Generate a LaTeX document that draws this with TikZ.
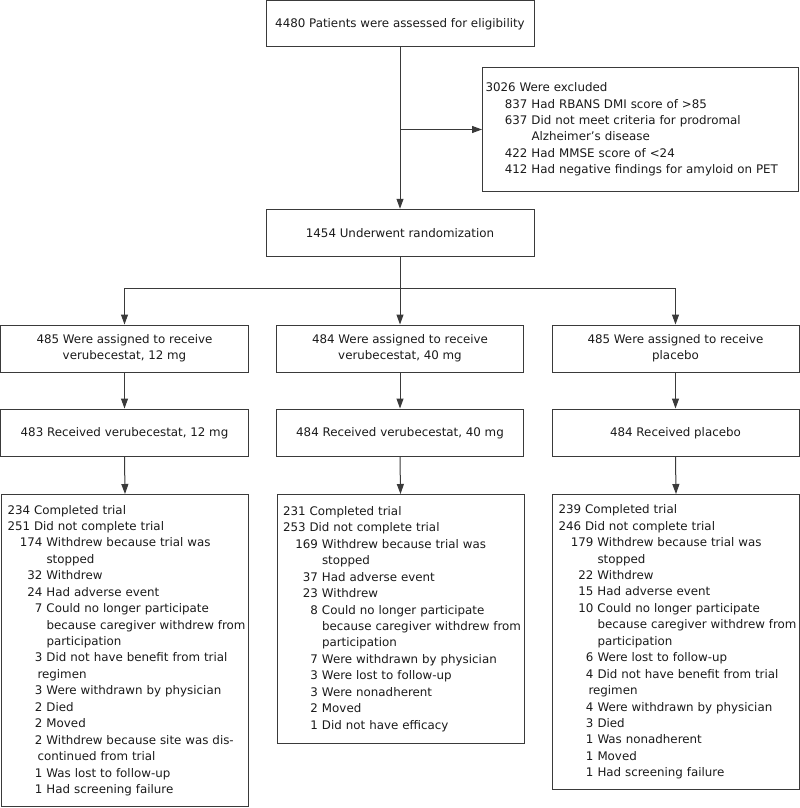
\documentclass[tikz,border=0pt]{standalone}
\usepackage{fontspec}
\setmainfont{DejaVu Sans}
\usetikzlibrary{positioning,arrows.meta}
\definecolor{lineGray}{HTML}{3A3A3A}
\definecolor{textBlack}{HTML}{1A1A1A}
\newlength{\reasonw}
\setlength{\reasonw}{35bp}
\newcommand{\reasonline}[2]{\mbox{\makebox[\reasonw][r]{#1}\hspace{4bp}#2}}
\newcommand{\reasoncont}[1]{\mbox{\hspace*{\reasonw}\hspace{4bp}#1}}
\newcommand{\reasonhang}[1]{\mbox{\hspace*{30bp}#1}}

\begin{document}
\begin{tikzpicture}[x=1bp,y=-1bp,
  box/.style={draw=lineGray,line width=1bp,inner sep=0pt,align=center,text=textBlack,font=\fontsize{11.9}{16.5}\selectfont},
  listbox/.style={box,align=left,inner xsep=6bp,text width=235bp,anchor=north west},
  arr/.style={draw=lineGray,line width=1bp,-{Triangle[length=10bp,width=7bp]}},
  link/.style={draw=lineGray,line width=1bp}]
\useasboundingbox (0,0) rectangle (800,808);
%% screening and randomization
\node [box,minimum width=268bp,minimum height=46bp] (eligBox) at (400,24) {4480 Patients were assessed for eligibility};
\node [box,anchor=north west,align=left,inner xsep=3bp,text width=310bp,minimum height=124bp] (exclBox) at (482,67) {\setlength{\reasonw}{42bp}%
3026 Were excluded\\
\reasonline{837}{Had RBANS DMI score of >85}\\
\reasonline{637}{Did not meet criteria for prodromal}\\
\reasoncont{Alzheimer's disease}\\
\reasonline{422}{Had MMSE score of <24}\\
\reasonline{412}{Had negative findings for amyloid on PET}};
\node [box,minimum width=268bp,minimum height=47bp] (randBox) at (400,232.75) {1454 Underwent randomization};
\coordinate (split) at (400,288);
%the assigned groups
\node [box,minimum width=247bp,minimum height=47bp] (assignLeft) at (124.5,348.5) {485 Were assigned to receive\\verubecestat, 12 mg};
\node [box,minimum width=247bp,minimum height=47bp] (assignMid) at (400,348.5) {484 Were assigned to receive\\verubecestat, 40 mg};
\node [box,minimum width=247bp,minimum height=47bp] (assignRight) at (675.5,348.5) {485 Were assigned to receive\\placebo};
\node [box,minimum width=247bp,minimum height=47.5bp] (recvLeft) at (124.5,432.75) {483 Received verubecestat, 12 mg};
\node [box,minimum width=247bp,minimum height=47.5bp] (recvMid) at (400,432.75) {484 Received verubecestat, 40 mg};
\node [box,minimum width=247bp,minimum height=47.5bp] (recvRight) at (675.5,432.75) {484 Received placebo};
%outcome of each group
\node [listbox,minimum height=312bp] (outLeft) at (1,494) {%
234 Completed trial\\
251 Did not complete trial\\
\reasonline{174}{Withdrew because trial was}\\
\reasoncont{stopped}\\
\reasonline{32}{Withdrew}\\
\reasonline{24}{Had adverse event}\\
\reasonline{7}{Could no longer participate}\\
\reasoncont{because caregiver withdrew from}\\
\reasoncont{participation}\\
\reasonline{3}{Did not have benefit from trial}\\
\reasonhang{regimen}\\
\reasonline{3}{Were withdrawn by physician}\\
\reasonline{2}{Died}\\
\reasonline{2}{Moved}\\
\reasonline{2}{Withdrew because site was dis-}\\
\reasonhang{continued from trial}\\
\reasonline{1}{Was lost to follow-up}\\
\reasonline{1}{Had screening failure}};
\node [listbox,minimum height=249bp] (outMid) at (276.5,494) {%
231 Completed trial\\
253 Did not complete trial\\
\reasonline{169}{Withdrew because trial was}\\
\reasoncont{stopped}\\
\reasonline{37}{Had adverse event}\\
\reasonline{23}{Withdrew}\\
\reasonline{8}{Could no longer participate}\\
\reasoncont{because caregiver withdrew from}\\
\reasoncont{participation}\\
\reasonline{7}{Were withdrawn by physician}\\
\reasonline{3}{Were lost to follow-up}\\
\reasonline{3}{Were nonadherent}\\
\reasonline{2}{Moved}\\
\reasonline{1}{Did not have efficacy}};
\node [listbox,minimum height=295bp] (outRight) at (552,494) {%
239 Completed trial\\
246 Did not complete trial\\
\reasonline{179}{Withdrew because trial was}\\
\reasoncont{stopped}\\
\reasonline{22}{Withdrew}\\
\reasonline{15}{Had adverse event}\\
\reasonline{10}{Could no longer participate}\\
\reasoncont{because caregiver withdrew from}\\
\reasoncont{participation}\\
\reasonline{6}{Were lost to follow-up}\\
\reasonline{4}{Did not have benefit from trial}\\
\reasonhang{regimen}\\
\reasonline{4}{Were withdrawn by physician}\\
\reasonline{3}{Died}\\
\reasonline{1}{Was nonadherent}\\
\reasonline{1}{Moved}\\
\reasonline{1}{Had screening failure}};
%drawings of lines
\draw [arr] (eligBox.south) -- (randBox.north);
\draw [arr] (eligBox.south |- exclBox.west) -- (exclBox.west);
\draw [link] (randBox.south) -- (split);
\draw [arr] (split) -| (assignLeft.north);
\draw [arr] (split) -- (assignMid.north);
\draw [arr] (split) -| (assignRight.north);

\draw [arr] (assignLeft.south) -- (recvLeft.north);
\draw [arr] (assignMid.south) -- (recvMid.north);
\draw [arr] (assignRight.south) -- (recvRight.north);
\draw [arr] (recvLeft.south) -- (outLeft.north);
\draw [arr] (recvMid.south) -- (outMid.north);
\draw [arr] (recvRight.south) -- (outRight.north);
\end{tikzpicture}
\end{document}
